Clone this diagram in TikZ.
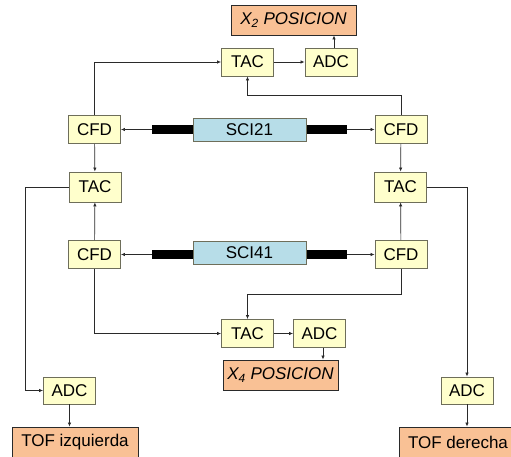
\documentclass[tikz,border=0pt]{standalone}
\usepackage{fontspec}
\setmainfont{Liberation Sans}
\usetikzlibrary{arrows.meta}
\definecolor{blockY}{HTML}{FFFFCC}
\definecolor{blockO}{HTML}{F9C195}
\definecolor{blockB}{HTML}{B7DDE8}
\definecolor{frameline}{HTML}{6E6E5A}
\definecolor{wire}{HTML}{2A2A2A}

\begin{document}
\begin{tikzpicture}[x=1pt,y=-1pt,font=\fontsize{17}{20}\selectfont,
unit/.style={draw=frameline,fill=blockY,line width=.9pt,minimum width=52pt,minimum height=28pt,inner sep=0pt},
result/.style={draw=wire,fill=blockO,line width=.9pt,minimum height=30pt,inner sep=0pt},
detector/.style={draw=frameline,fill=blockB,line width=.9pt,minimum width=113pt,minimum height=23pt,inner sep=0pt},
guide/.style={fill=black,minimum width=41pt,minimum height=9pt,inner sep=0pt},
arrow/.style={-{Latex[length=4pt,width=3.5pt]},line width=.7pt,draw=wire}]
\useasboundingbox (0,0) rectangle (511,457);
% top: position X2
\node[result,minimum width=125pt] (x2pos) at (293.5,20) {\itshape X\textsubscript{2} POSICION};
\node[unit] (tac2) at (247.5,62) {TAC};
\node[unit] (adc2) at (331,62) {ADC};
% SCI21 row
\node[guide] (bar21l) at (172.5,129.5) {};
\node[guide] (bar21r) at (326.5,129.5) {};
\node[detector] (sci21) at (249.5,129.5) {SCI21};
\node[unit] (cfd21l) at (94.5,129.5) {CFD};
\node[unit] (cfd21r) at (401,129.5) {CFD};
\node[unit,minimum height=30pt] (tacl) at (95,187) {TAC};
\node[unit,minimum height=30pt] (tacr) at (400.5,187) {TAC};
% SCI41 row
\node[guide] (bar41l) at (172.5,254.5) {};
\node[guide] (bar41r) at (326.5,254.5) {};
\node[detector] (sci41) at (249.5,252.5) {SCI41};
\node[unit] (cfd41l) at (94.5,254.5) {CFD};
\node[unit] (cfd41r) at (401,254.5) {CFD};
% bottom: position X4
\node[unit] (tac4) at (247.5,333.5) {TAC};
\node[unit] (adc4) at (319.5,333.5) {ADC};
\node[result,minimum width=115pt] (x4pos) at (280.5,375) {\itshape X\textsubscript{4} POSICION};
% time of flight
\node[unit,minimum height=27pt] (adcl) at (69.5,390.5) {ADC};
\node[unit,minimum height=27pt] (adcr) at (467,390.5) {ADC};
\node[result,minimum width=126pt] (tofl) at (75,442) {TOF izquierda};
\node[result,minimum width=118pt] (tofr) at (458,442) {TOF derecha};
\coordinate (turn2) at (0,95);
\coordinate (turn4) at (0,294);
\coordinate (edgeL) at (25,0);
% connectors
\draw[arrow] (cfd21l.north) |- (tac2.west);
\draw[arrow] (tac2) -- (adc2);
\draw[arrow] (adc2.north) ++(3,0) coordinate (a2) -- (a2 |- x2pos.south);
\draw[arrow] (cfd21r.north) -- (cfd21r.north |- turn2) -| (tac2.south);
\draw[arrow] (bar21l.west) -- (cfd21l.east);
\draw[arrow] (bar21r.east) -- (cfd21r.west);
\draw[arrow] (cfd21l) -- (tacl);
\draw[arrow] (cfd21r) -- (tacr);
\draw[arrow] (cfd41l) -- (tacl);
\draw[arrow] (cfd41r) -- (tacr);
\draw[arrow] (bar41l.west) -- (cfd41l.east);
\draw[arrow] (bar41r.east) -- (cfd41r.west);
\draw[arrow] (tacl.west) -| (edgeL |- adcl.west) -- (adcl.west);
\draw[arrow] (tacr.east) -| (adcr.north);
\draw[arrow] (adcl.south) -- (adcl.south |- tofl.north);
\draw[arrow] (adcr.south) -- (adcr.south |- tofr.north);
\draw[arrow] (cfd41l.south) |- (tac4.west);
\draw[arrow] (cfd41r.south) -- (cfd41r.south |- turn4) -| (tac4.north);
\draw[arrow] (tac4) -- (adc4);
\draw[arrow] (adc4.south) ++(3.5,0) coordinate (a4) -- (a4 |- x4pos.north);
\end{tikzpicture}
\end{document}
